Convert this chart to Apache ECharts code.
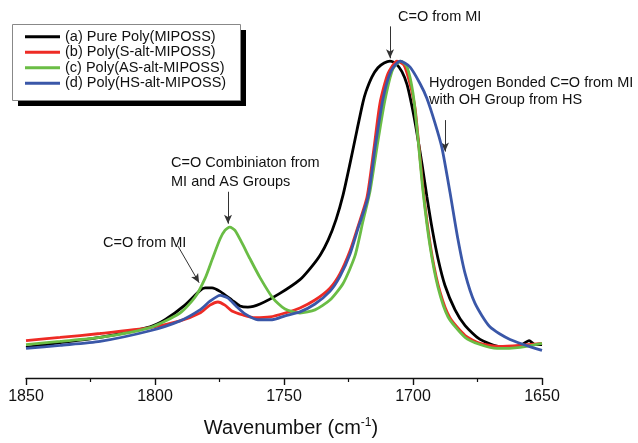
<!DOCTYPE html>
<html><head><meta charset="utf-8">
<script src="https://cdn.jsdelivr.net/npm/echarts@6/dist/echarts.min.js"></script>
<style>html,body{margin:0;padding:0;background:#fff}#c{width:638px;height:443px}</style>
</head><body><div id="c"></div>
<script>
const seriesNames = ['(a) Pure Poly(MIPOSS)','(b) Poly(S-alt-MIPOSS)','(c) Poly(AS-alt-MIPOSS)','(d) Poly(HS-alt-MIPOSS)'];
const xTicks = [1850, 1800, 1750, 1700, 1650];

const pureWn  = [1850,1836.8,1821.3,1801.9,1796.1,1788.4,1782.6,1780.6,1777.9,1774.8,1770.2,1767.1,1764.0,1759.3,1751.6,1743.8,1739.9,1736.0,1732.9,1729.8,1727.1,1724.4,1721.7,1719.4,1718.2,1715.9,1713.6,1711.2,1708.9,1706.6,1704.3,1702.3,1700.4,1698.5,1696.5,1694.6,1692.6,1690.3,1687.6,1683.7,1679.8,1674.0,1666.3,1660.5,1657.7,1655.0,1652.7,1650];
const pureAbs = [0.078,0.090,0.103,0.130,0.148,0.185,0.222,0.229,0.229,0.220,0.198,0.183,0.180,0.188,0.215,0.250,0.278,0.312,0.350,0.403,0.465,0.545,0.630,0.700,0.728,0.765,0.788,0.800,0.805,0.798,0.778,0.745,0.690,0.623,0.543,0.460,0.380,0.303,0.235,0.173,0.133,0.098,0.080,0.080,0.085,0.095,0.085,0.085];

const sWn  = [1850,1836.8,1821.3,1801.9,1790.3,1782.6,1778.7,1775.6,1772.9,1770.2,1765.9,1761.2,1755.4,1749.6,1743.8,1738.0,1732.2,1728.3,1724.4,1721.3,1717.8,1715.1,1712.8,1709.7,1706.2,1703.5,1701.2,1699.2,1697.3,1695.3,1692.6,1689.5,1685.7,1679.8,1674.0,1666.3,1658.5,1650];
const sAbs = [0.095,0.103,0.113,0.128,0.145,0.165,0.185,0.193,0.185,0.170,0.160,0.153,0.155,0.165,0.178,0.198,0.228,0.265,0.323,0.385,0.460,0.585,0.698,0.773,0.805,0.795,0.748,0.685,0.560,0.435,0.310,0.218,0.153,0.108,0.088,0.080,0.083,0.088];

const asWn  = [1850,1836.8,1821.3,1801.9,1790.3,1784.5,1780.6,1777.9,1774.8,1772.9,1771.0,1769.0,1766.3,1763.2,1759.3,1754.3,1749.6,1743.8,1738.0,1732.2,1727.1,1722.5,1719.4,1716.7,1714.0,1710.9,1707.8,1704.7,1702.3,1700.0,1698.1,1696.1,1693.4,1690.3,1686.4,1679.8,1674.0,1667.4,1658.5,1650];
const asAbs = [0.085,0.093,0.103,0.128,0.165,0.205,0.253,0.300,0.353,0.375,0.383,0.375,0.343,0.303,0.255,0.203,0.175,0.165,0.173,0.198,0.240,0.310,0.398,0.473,0.585,0.705,0.785,0.805,0.790,0.723,0.610,0.473,0.335,0.230,0.155,0.103,0.085,0.075,0.078,0.088];

const hsWn  = [1850,1836.8,1821.3,1801.9,1790.3,1782.6,1778.7,1774.8,1771.7,1768.6,1765.1,1760.1,1754.6,1749.6,1743.8,1738.0,1732.2,1728.3,1724.4,1721.3,1717.4,1714.7,1711.6,1708.5,1705.0,1701.2,1697.3,1694.6,1691.5,1688.8,1685.7,1682.6,1679.8,1676.0,1670.2,1662.4,1650];
const hsAbs = [0.075,0.083,0.093,0.120,0.145,0.173,0.195,0.210,0.203,0.183,0.163,0.148,0.148,0.158,0.168,0.188,0.220,0.258,0.315,0.380,0.460,0.585,0.710,0.780,0.805,0.790,0.748,0.710,0.648,0.585,0.473,0.353,0.265,0.190,0.130,0.098,0.070];

const colors = ['#000000','#ee2b25','#6abd45','#3a57a8'];
const wnSets = [pureWn, sWn, asWn, hsWn];
const absSets = [pureAbs, sAbs, asAbs, hsAbs];

// annotation arrows in data units [wn, abs] start -> end
const arrows = [
  [[1708.9,0.893],[1708.9,0.812]],
  [[1771.7,0.473],[1771.7,0.392]],
  [[1687.6,0.655],[1687.6,0.575]],
  [[1791.1,0.335],[1782.9,0.242]]
];

const chart = echarts.init(document.getElementById('c'), null, {renderer:'canvas'});
const FONT = '"Liberation Sans", Arial, sans-serif';

const series = seriesNames.map((n,i)=>({
  name:n, type:'line', showSymbol:false, smooth:0.22, z: 2+i,
  data: wnSets[i].map((w,k)=>[w, absSets[i][k]]),
  lineStyle:{color:colors[i], width:2.8}, itemStyle:{color:colors[i]},
  animation:false
}));
series[0].markLine = {
  silent:true, animation:false, symbol:['none','triangle'], symbolSize:[6,9],
  lineStyle:{color:'#333', width:1, type:'solid'}, label:{show:false},
  data: arrows.map(a=>[{coord:a[0], symbol:'none'},{coord:a[1], symbol:'arrow'}])
};

const txt = (x,y,s,align)=>({type:'text', left:x, top:y, z:20, style:{text:s, font:'14.5px '+FONT, fill:'#111', textAlign:align||'left'}});

chart.setOption({
  backgroundColor:'#fff',
  animation:false,
  grid:{left:26, right:96, top:0, bottom:59, containLabel:false},
  legend:{
    orient:'vertical', left:25, top:29, data:seriesNames, z:30,
    icon:'rect', itemWidth:35, itemHeight:3, itemGap:0,
    padding:0,
    textStyle:{fontFamily:FONT, fontSize:14.5, color:'#111', lineHeight:15.5},
    selectedMode:false
  },
  xAxis:{
    type:'value', inverse:true, min:1650, max:1850, interval:50,
    axisLine:{show:true, lineStyle:{color:'#111', width:1.4}},
    axisTick:{show:true, length:7, inside:false, lineStyle:{color:'#111', width:1.4}},
    minorTick:{show:true, splitNumber:2, length:4, lineStyle:{color:'#111', width:1.2}},
    splitLine:{show:false},
    axisLabel:{fontFamily:FONT, fontSize:16, color:'#111', margin:11,
      formatter:v=> xTicks.indexOf(v)>=0 ? String(v) : ''},
    name:'{m|Wavenumber (cm}{s|-1}{m|)}', nameLocation:'middle', nameGap:39,
    nameTextStyle:{padding:[0,0,0,14], rich:{
      m:{fontFamily:FONT, fontSize:20, color:'#111'},
      s:{fontFamily:FONT, fontSize:12, color:'#111', padding:[0,0,10,0]}
    }}
  },
  yAxis:{type:'value', min:0, max:0.96, show:false},
  series: series,
  graphic:[
    {type:'rect', left:18, top:30, z:25, shape:{width:228, height:76}, style:{fill:'#000'}},
    {type:'rect', left:12, top:24, z:26, shape:{width:228, height:76}, style:{fill:'#fff', stroke:'#888', lineWidth:1}},
    txt(398,9,'C=O from MI','center'),
    txt(429,75,'Hydrogen Bonded C=O from MI'),
    txt(429,92,'with OH Group from HS'),
    txt(171,155,'C=O Combiniaton from'),
    txt(171,174,'MI and AS Groups'),
    txt(103,235,'C=O from MI')
  ]
});
</script></body></html>
